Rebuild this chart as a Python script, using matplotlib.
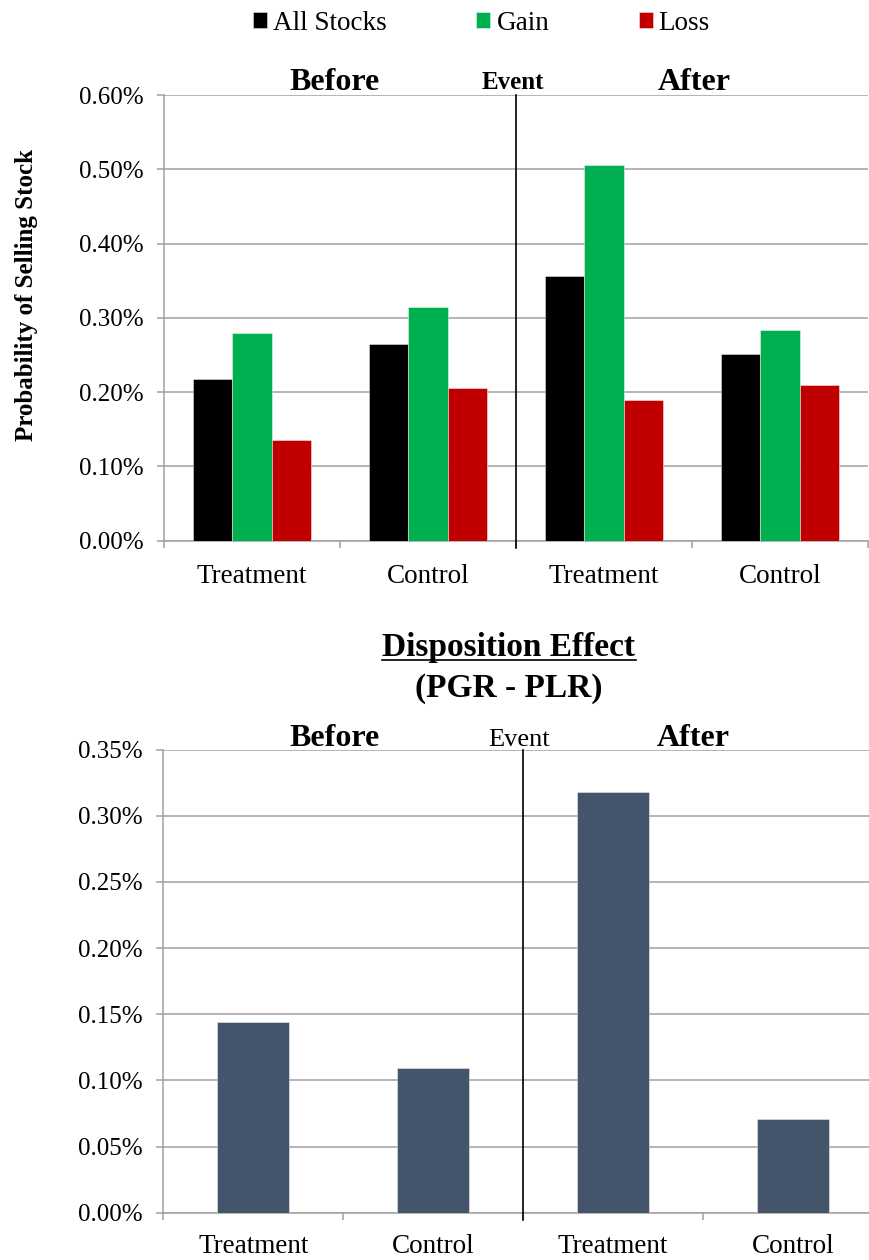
import matplotlib
matplotlib.use("Agg")
import matplotlib.pyplot as plt
from matplotlib.lines import Line2D
from matplotlib.ticker import FuncFormatter
import numpy as np

plt.rcParams['font.family'] = ['Liberation Serif', 'DejaVu Serif']

# ---- data (values in percent) ----
groups = ["Treatment", "Control", "Treatment", "Control"]
series_names = ["All Stocks", "Gain", "Loss"]
all_stocks = [0.218, 0.265, 0.357, 0.251]
gain = [0.280, 0.315, 0.506, 0.284]
loss = [0.135, 0.206, 0.189, 0.210]
disposition = [0.144, 0.109, 0.318, 0.071]
prob_ticks = [0.0, 0.1, 0.2, 0.3, 0.4, 0.5, 0.6]
disp_ticks = [0.0, 0.05, 0.10, 0.15, 0.20, 0.25, 0.30, 0.35]

series_colors = ["#000000", "#00B050", "#C00000"]
disp_color = "#44546A"
GRID = "#A0A0A0"

W, H = 870, 1260
fig = plt.figure(figsize=(W / 100, H / 100), dpi=100)


def fx(px):
    return px / W


def fy(py):
    return 1 - py / H


ax1 = fig.add_axes([fx(164), fy(540.7), (868 - 164) / W, (540.7 - 95) / H])
ax2 = fig.add_axes([fx(163.3), fy(1212.7), (883 - 163.3) / W, (1212.7 - 749.5) / H])


def style(ax, ticks, xpad):
    ax.set_xlim(-0.5, 3.5)
    ax.set_ylim(ticks[0], ticks[-1])
    ax.set_yticks(ticks)
    ax.yaxis.set_major_formatter(FuncFormatter(lambda v, _: f"{v:.2f}%"))
    ax.grid(axis='y', color=GRID, linewidth=1.1)
    ax.set_axisbelow(True)
    for s in ['top', 'right']:
        ax.spines[s].set_visible(False)
    for s in ['left', 'bottom']:
        ax.spines[s].set_color(GRID)
        ax.spines[s].set_linewidth(1.1)
    ax.set_xticks(range(len(groups)))
    ax.set_xticklabels(groups, fontsize=19.5)
    ax.tick_params(axis='x', which='major', length=0, pad=xpad)
    ax.set_xticks(np.arange(-0.5, len(groups), 1.0), minor=True)
    ax.tick_params(axis='x', which='minor', length=5, color=GRID, width=1.1)
    ax.tick_params(axis='y', length=5, color=GRID, width=1.1, labelsize=18, pad=10)


# ---- top panel: probability of selling ----
style(ax1, prob_ticks, 17)
x = np.arange(len(groups))
bw = 0.2227
handles = []
for i, (vals, col, name) in enumerate(zip([all_stocks, gain, loss], series_colors, series_names)):
    h = ax1.bar(x + (i - 1) * bw, vals, bw, color=col, label=name,
                edgecolor=(1, 1, 1, 0.5), linewidth=0.6, zorder=3)
    handles.append(h)
ax1.axvline(1.5, ymin=-7 / 445.7, ymax=1, color='black', linewidth=1.2,
            clip_on=False, zorder=4)

fig.legend(handles, series_names, loc='center', bbox_to_anchor=(fx(481.5), fy(23)),
           ncol=3, frameon=False, fontsize=19.5, handlelength=0.52, handleheight=0.52,
           handletextpad=0.22, columnspacing=3.3, borderpad=0, borderaxespad=0)

fig.text(fx(335), fy(90), "Before", ha='center', va='baseline', fontsize=23, fontweight='bold')
fig.text(fx(513), fy(89), "Event", ha='center', va='baseline', fontsize=18, fontweight='bold')
fig.text(fx(694), fy(90), "After", ha='center', va='baseline', fontsize=23, fontweight='bold')
fig.text(fx(27), fy(295), "Probability of Selling Stock", rotation=90, ha='center',
         va='center', fontsize=18, fontweight='bold')

# ---- bottom panel: disposition effect ----
style(ax2, disp_ticks, 15.5)
ax2.bar(x, disposition, 0.4, color=disp_color, edgecolor=(1, 1, 1, 0.5),
        linewidth=0.6, zorder=3)
ax2.axvline(1.5, ymin=-7 / 463.2, ymax=1, color='black', linewidth=1.2,
            clip_on=False, zorder=4)

title = fig.text(fx(509), fy(656), "Disposition Effect", ha='center', va='baseline',
                 fontsize=24, fontweight='bold')
fig.text(fx(509), fy(697), "(PGR - PLR)", ha='center', va='baseline',
         fontsize=24, fontweight='bold')
fig.text(fx(335), fy(746), "Before", ha='center', va='baseline', fontsize=23, fontweight='bold')
fig.text(fx(519), fy(746), "Event", ha='center', va='baseline', fontsize=19)
fig.text(fx(693), fy(746), "After", ha='center', va='baseline', fontsize=23, fontweight='bold')

# underline beneath the lower panel title
fig.canvas.draw()
bb = title.get_window_extent().transformed(fig.transFigure.inverted())
fig.add_artist(Line2D([bb.x0, bb.x1], [fy(660), fy(660)], color='black',
                      linewidth=1.2, transform=fig.transFigure))

fig.savefig("out.png", dpi=100)
